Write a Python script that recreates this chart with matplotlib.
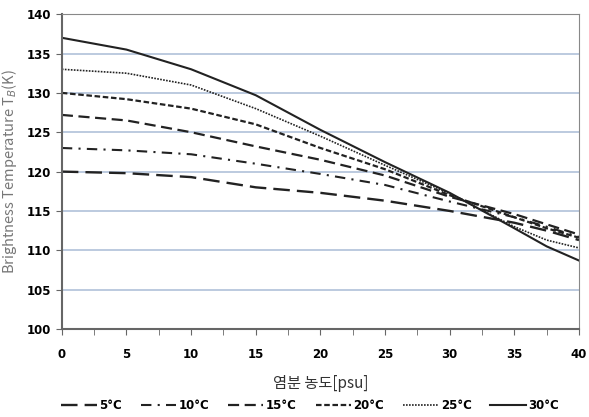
import matplotlib.pyplot as plt
import numpy as np

plt.rcParams['font.family'] = ['Noto Sans CJK KR', 'DejaVu Sans']

# salinity (psu) and brightness temperature per water temperature
salinity = [0, 5, 10, 15, 20, 25, 30, 35, 37.5, 40]
tb_5 = [120.0, 119.8, 119.3, 118.0, 117.3, 116.3, 115.0, 113.5, 112.5, 111.3]
tb_10 = [123.0, 122.7, 122.2, 121.0, 119.7, 118.3, 116.2, 114.2, 113.0, 111.7]
tb_15 = [127.2, 126.5, 125.0, 123.2, 121.5, 119.5, 116.8, 114.6, 113.3, 112.0]
tb_20 = [130.0, 129.2, 128.0, 126.0, 123.0, 120.3, 117.0, 114.2, 112.8, 111.6]
tb_25 = [133.0, 132.5, 131.0, 128.0, 124.5, 120.8, 117.2, 113.0, 111.3, 110.3]
tb_30 = [137.0, 135.5, 133.0, 129.7, 125.3, 121.2, 117.3, 112.8, 110.5, 108.7]

labels = ['5°C', '10°C', '15°C', '20°C', '25°C', '30°C']
series = [tb_5, tb_10, tb_15, tb_20, tb_25, tb_30]
styles = [(0, (7, 3)), (0, (5, 3, 1, 3)), (0, (5, 2.5)), (0, (2.5, 1.2)), (0, (1, 0.8)), '-']
widths = [1.7, 1.5, 1.6, 1.6, 1.2, 1.5]

fig = plt.figure(figsize=(5.89, 4.17), dpi=100)
ax = fig.add_axes([0.105, 0.211, 0.878, 0.755])

for y, lab, ls, lw in zip(series, labels, styles, widths):
    ax.plot(salinity, y, color='#222222', linestyle=ls, linewidth=lw, label=lab)

ax.set_xlim(0, 40)
ax.set_ylim(100, 140)
ax.set_xticks(np.arange(0, 41, 5))
ax.set_xticks(np.arange(0, 41, 2.5), minor=True)
ax.set_yticks(np.arange(100, 141, 5))
ax.yaxis.grid(True, color='#a9bcd6', linewidth=1.1)
ax.set_axisbelow(True)

for s in ax.spines.values():
    s.set_color('#888888')
ax.spines['left'].set_color('#666666')
ax.spines['bottom'].set_color('#666666')
ax.spines['left'].set_linewidth(1.5)
ax.spines['bottom'].set_linewidth(1.5)

ax.tick_params(axis='both', which='both', length=4, color='#666666', labelsize=8.5)
ax.tick_params(axis='x', which='both', direction='out', pad=10)
for t in ax.get_xticklabels() + ax.get_yticklabels():
    t.set_fontweight('bold')
    t.set_family('DejaVu Sans')

ax.set_xlabel('염분 농도[psu]', fontsize=11, color='#333333', labelpad=10)
ax.set_ylabel('Brightness Temperature T$_B$(K)', fontsize=10.5, color='#777777', labelpad=6)

leg = ax.legend(loc='upper center', bbox_to_anchor=(0.48, -0.19), ncol=6, frameon=False,
                handlelength=3.0, columnspacing=1.6, handletextpad=0.2,
                prop={'weight': 'bold', 'size': 8.5, 'family': 'DejaVu Sans'})

fig.savefig('out.png', dpi=100)
